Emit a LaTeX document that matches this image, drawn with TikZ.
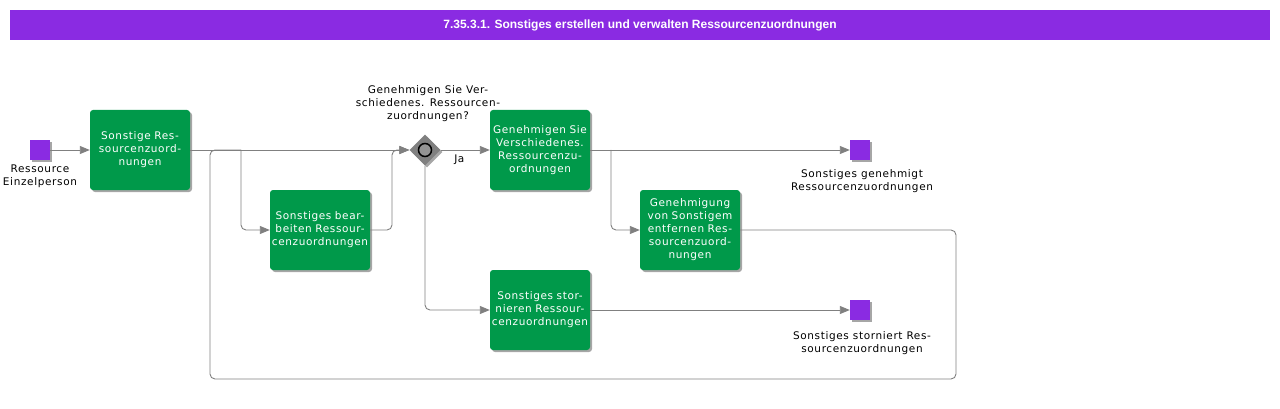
\documentclass[tikz,border=0pt]{standalone}
\usepackage{fontspec}
\setmainfont{DejaVu Sans}[LetterSpace=6]
\newfontfamily\titlefont{Liberation Sans}
\usetikzlibrary{shapes.geometric,shadows,arrows.meta}
\definecolor{bpurple}{RGB}{138,43,226}
\definecolor{bgreen}{RGB}{0,153,74}
\definecolor{lgray}{RGB}{128,128,128}
\tikzset{
  task/.style={fill=bgreen, rounded corners=3pt, minimum width=100pt, minimum height=80pt,
    text width=98pt, align=center, text=white, inner sep=0pt,
    font=\fontsize{10.5}{13}\selectfont,
    drop shadow={shadow xshift=2pt, shadow yshift=-2pt, opacity=0.35, fill=black}},
  evt/.style={fill=bpurple, minimum size=20pt, inner sep=0pt,
    drop shadow={shadow xshift=2pt, shadow yshift=-2pt, opacity=0.35, fill=black}},
  lbl/.style={align=center, font=\fontsize{10.5}{13}\selectfont, text=black, inner sep=0pt},
  flow/.style={draw=lgray, line width=0.9pt, rounded corners=5pt, -{Triangle[length=10pt,width=8pt]}},
  plain/.style={draw=lgray, line width=0.9pt, rounded corners=5pt},
  gate/.style={diamond, fill=lgray, minimum size=31pt, inner sep=0pt, aspect=1,
    drop shadow={shadow xshift=2pt, shadow yshift=-2pt, opacity=0.35, fill=black}},
}
\begin{document}
\begin{tikzpicture}[x=1pt,y=-1pt]
\useasboundingbox (0,0) rectangle (1280,409);
\node[fill=bpurple, minimum width=1260pt, minimum height=30pt, inner sep=0pt, text=white,
  font=\titlefont\bfseries\fontsize{12}{14}\selectfont] (title) at (640,25)
  {7.35.3.1. Sonstiges erstellen und verwalten Ressourcenzuordnungen};

\node[evt] (s) at (40,150) {};
\node[lbl] (sl) at (40,176) {Ressource\\Einzelperson};
\node[task] (t1) at (140,150) {Sonstige Res-\\sourcenzuord-\\nungen};
\node[task] (t2) at (320,230) {Sonstiges bear-\\beiten Ressour-\\cenzuordnungen};
\node[gate] (gw) at (425,150) {};
\node[circle, draw=black, line width=1.5pt, fill=lgray!85!white, minimum size=13pt, inner sep=0pt] (gwc) at (gw) {};
\node[lbl] (gl) at (428,104) {Genehmigen Sie Ver-\\schiedenes. Ressourcen-\\zuordnungen?};
\node[task] (t3) at (540,150) {Genehmigen Sie\\Verschiedenes.\\Ressourcenzu-\\ordnungen};
\node[task] (t4) at (690,230) {Genehmigung\\von Sonstigem\\entfernen Res-\\sourcenzuord-\\nungen};
\node[task] (t5) at (540,310) {Sonstiges stor-\\nieren Ressour-\\cenzuordnungen};
\node[evt] (e1) at (860,150) {};
\node[lbl] (e1l) at (862,181) {Sonstiges genehmigt\\Ressourcenzuordnungen};
\node[evt] (e2) at (860,310) {};
\node[lbl] (e2l) at (862,343) {Sonstiges storniert Res-\\sourcenzuordnungen};

\coordinate (b1) at (241,150);
\coordinate (c2) at (392,150);
\coordinate (b2) at (611,150);
\coordinate (l1) at (956,379);
\coordinate (l2) at (210,150);

\draw[flow] (s) -- (t1);
\draw[flow] (t1.east) -- (gw.west);
\draw[flow] (b1) |- (t2.west);
\draw[flow] (t2.east) -| (c2) -- (gw.west);
\draw[flow] (gw.east) -- node[lbl, pos=0.38, below=4pt] (ja) {Ja} (t3.west);
\draw[flow] (gw.south) |- (t5.west);
\draw[flow] (t3) -- (e1);
\draw[flow] (b2) |- (t4.west);
\draw[plain] (t4.east) -| (l1) -| (l2) -- (b1);
\draw[flow] (t5) -- (e2);
\end{tikzpicture}
\end{document}
